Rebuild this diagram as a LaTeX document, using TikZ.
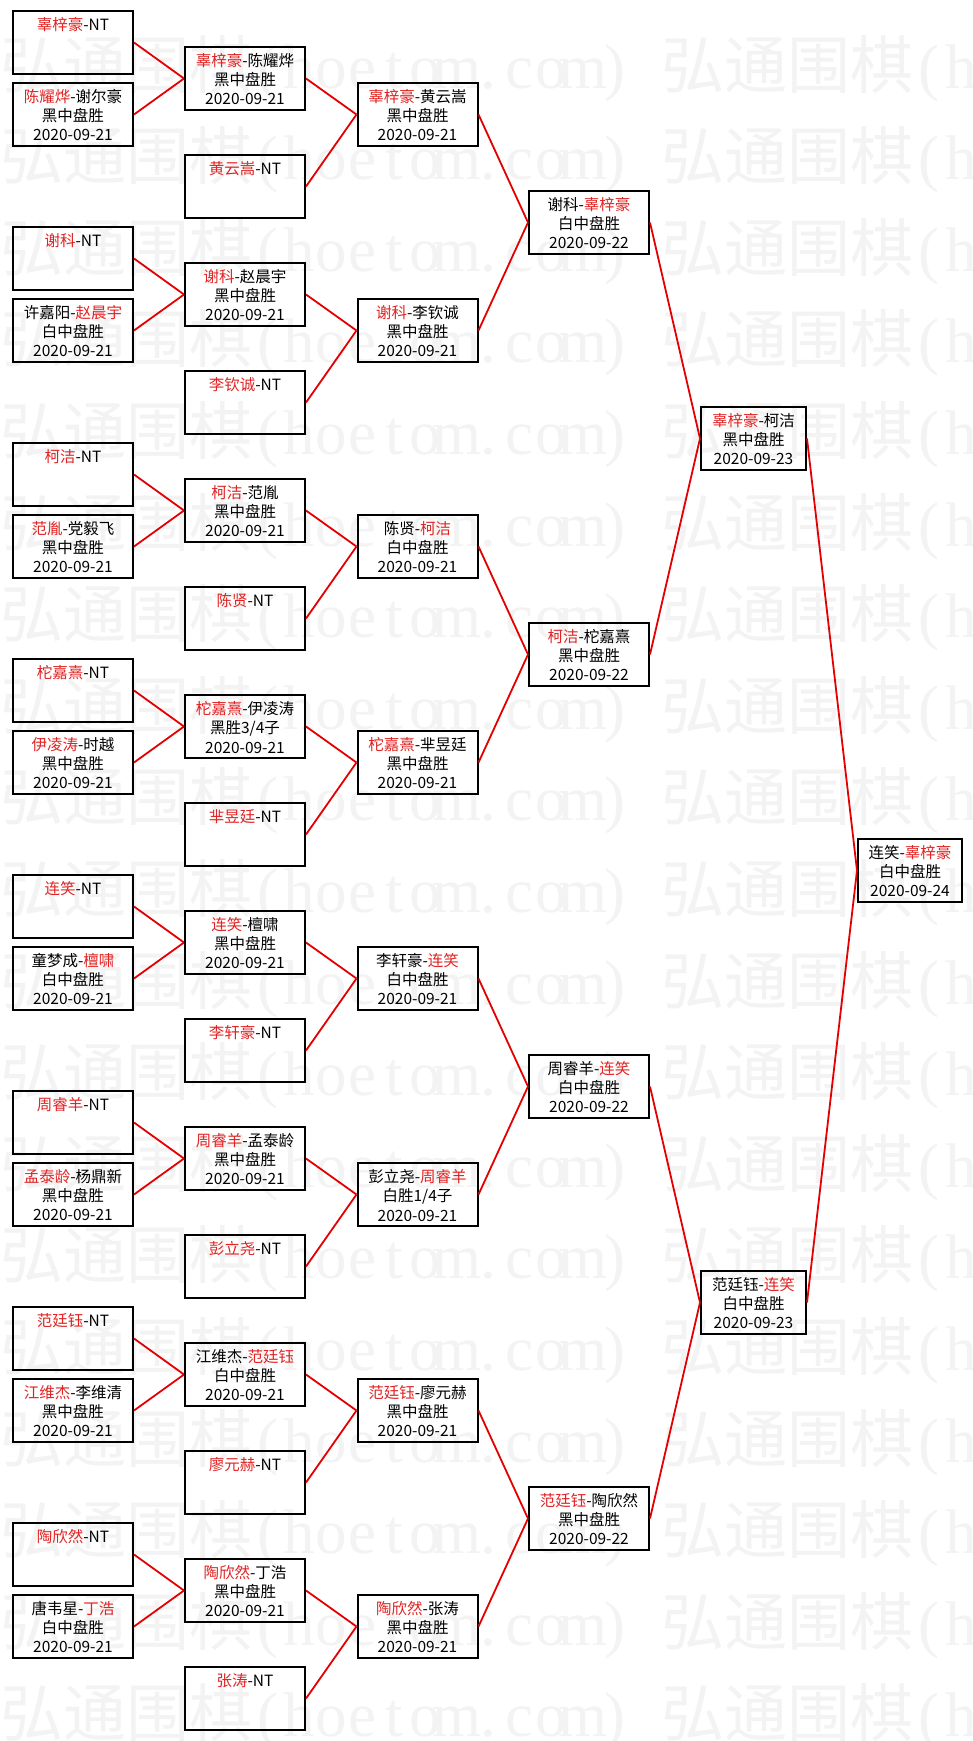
\documentclass[tikz,border=0pt]{standalone}
\usepackage{fontspec}
\newfontfamily\cjk{Noto Sans CJK SC}
\newfontfamily\wmlat{Liberation Serif}
\definecolor{tred}{RGB}{225,35,35}
\definecolor{lred}{RGB}{228,0,0}
\definecolor{wmgray}{RGB}{243,243,243}
\newcommand\boxfont{\cjk\fontsize{15.5pt}{19pt}\selectfont}
\newcommand\wmfont{\cjk\fontsize{63pt}{70pt}\selectfont}
\newcommand\redn[1]{\textcolor{tred}{#1}}
\newcommand\bxl[1]{\rule[-2.1pt]{0pt}{19pt}#1}
\newcommand\mthree[3]{\bxl{#1}\\\bxl{#2}\\\bxl{#3}}
\newcommand\mnt[1]{\bxl{\redn{#1}-NT}\\\bxl{}\\\bxl{}}
\newcommand\wmC[1]{\makebox[63pt]{#1}}
\newcommand\wmL[1]{\makebox[31.5pt]{\wmlat #1}}
\newcommand\wmtext{\wmC{弘}\wmC{通}\wmC{围}\wmC{棋}\wmL{(}\wmL{h}\wmL{o}\wmL{e}\wmL{t}\wmL{o}\wmL{m}\wmL{.}\wmL{c}\wmL{o}\wmL{m}\wmL{)}\wmL{}}
\tikzset{
  box/.style={draw=black, line width=2pt, minimum width=120pt, minimum height=63pt, inner sep=0pt, align=center, font=\boxfont},
  nbox/.style={box, minimum width=105pt},
  fbox/.style={box, minimum width=104pt},
  link/.style={draw=lred, line width=1.8pt},
  wm/.style={anchor=base west, inner sep=0pt, font=\wmfont, text=wmgray}
}
\begin{document}
\begin{tikzpicture}[x=1pt,y=-1pt]
\useasboundingbox (0,0) rectangle (973,1741);
\fill[white] (0,0) rectangle (973,1741);
% watermark
\begin{scope}
\clip (0,0) rectangle (973,1741);
\foreach \k in {0,...,18}{
  \node[wm] (wm\k) at (0,{88+91.6*\k}) {\wmtext\wmtext};
}
\end{scope}
% column 1
\node[box] (a1) at (73,42.5)   {\mnt{辜梓豪}};
\node[box] (b1) at (73,114.5)  {\mthree{\redn{陈耀烨}-谢尔豪}{黑中盘胜}{2020-09-21}};
\node[box] (a2) at (73,258.5)  {\mnt{谢科}};
\node[box] (b2) at (73,330.5)  {\mthree{许嘉阳-\redn{赵晨宇}}{白中盘胜}{2020-09-21}};
\node[box] (a3) at (73,474.5)  {\mnt{柯洁}};
\node[box] (b3) at (73,546.5)  {\mthree{\redn{范胤}-党毅飞}{黑中盘胜}{2020-09-21}};
\node[box] (a4) at (73,690.5)  {\mnt{柁嘉熹}};
\node[box] (b4) at (73,762.5)  {\mthree{\redn{伊凌涛}-时越}{黑中盘胜}{2020-09-21}};
\node[box] (a5) at (73,906.5)  {\mnt{连笑}};
\node[box] (b5) at (73,978.5)  {\mthree{童梦成-\redn{檀啸}}{白中盘胜}{2020-09-21}};
\node[box] (a6) at (73,1122.5) {\mnt{周睿羊}};
\node[box] (b6) at (73,1194.5) {\mthree{\redn{孟泰龄}-杨鼎新}{黑中盘胜}{2020-09-21}};
\node[box] (a7) at (73,1338.5) {\mnt{范廷钰}};
\node[box] (b7) at (73,1410.5) {\mthree{\redn{江维杰}-李维清}{黑中盘胜}{2020-09-21}};
\node[box] (a8) at (73,1554.5) {\mnt{陶欣然}};
\node[box] (b8) at (73,1626.5) {\mthree{唐韦星-\redn{丁浩}}{白中盘胜}{2020-09-21}};
% column 2
\node[box] (m1) at (245,78.5)   {\mthree{\redn{辜梓豪}-陈耀烨}{黑中盘胜}{2020-09-21}};
\node[box] (n1) at (245,186.5)  {\mnt{黄云嵩}};
\node[box] (m2) at (245,294.5)  {\mthree{\redn{谢科}-赵晨宇}{黑中盘胜}{2020-09-21}};
\node[box] (n2) at (245,402.5)  {\mnt{李钦诚}};
\node[box] (m3) at (245,510.5)  {\mthree{\redn{柯洁}-范胤}{黑中盘胜}{2020-09-21}};
\node[box] (n3) at (245,618.5)  {\mnt{陈贤}};
\node[box] (m4) at (245,726.5)  {\mthree{\redn{柁嘉熹}-伊凌涛}{黑胜3/4子}{2020-09-21}};
\node[box] (n4) at (245,834.5)  {\mnt{芈昱廷}};
\node[box] (m5) at (245,942.5)  {\mthree{\redn{连笑}-檀啸}{黑中盘胜}{2020-09-21}};
\node[box] (n5) at (245,1050.5) {\mnt{李轩豪}};
\node[box] (m6) at (245,1158.5) {\mthree{\redn{周睿羊}-孟泰龄}{黑中盘胜}{2020-09-21}};
\node[box] (n6) at (245,1266.5) {\mnt{彭立尧}};
\node[box] (m7) at (245,1374.5) {\mthree{江维杰-\redn{范廷钰}}{白中盘胜}{2020-09-21}};
\node[box] (n7) at (245,1482.5) {\mnt{廖元赫}};
\node[box] (m8) at (245,1590.5) {\mthree{\redn{陶欣然}-丁浩}{黑中盘胜}{2020-09-21}};
\node[box] (n8) at (245,1698.5) {\mnt{张涛}};
% column 3
\node[box] (t1) at (417.5,114.5)  {\mthree{\redn{辜梓豪}-黄云嵩}{黑中盘胜}{2020-09-21}};
\node[box] (t2) at (417.5,330.5)  {\mthree{\redn{谢科}-李钦诚}{黑中盘胜}{2020-09-21}};
\node[box] (t3) at (417.5,546.5)  {\mthree{陈贤-\redn{柯洁}}{白中盘胜}{2020-09-21}};
\node[box] (t4) at (417.5,762.5)  {\mthree{\redn{柁嘉熹}-芈昱廷}{黑中盘胜}{2020-09-21}};
\node[box] (t5) at (417.5,978.5)  {\mthree{李轩豪-\redn{连笑}}{白中盘胜}{2020-09-21}};
\node[box] (t6) at (417.5,1194.5) {\mthree{彭立尧-\redn{周睿羊}}{白胜1/4子}{2020-09-21}};
\node[box] (t7) at (417.5,1410.5) {\mthree{\redn{范廷钰}-廖元赫}{黑中盘胜}{2020-09-21}};
\node[box] (t8) at (417.5,1626.5) {\mthree{\redn{陶欣然}-张涛}{黑中盘胜}{2020-09-21}};
% column 4
\node[box] (q1) at (589,222.5)  {\mthree{谢科-\redn{辜梓豪}}{白中盘胜}{2020-09-22}};
\node[box] (q2) at (589,654.5)  {\mthree{\redn{柯洁}-柁嘉熹}{黑中盘胜}{2020-09-22}};
\node[box] (q3) at (589,1086.5) {\mthree{周睿羊-\redn{连笑}}{白中盘胜}{2020-09-22}};
\node[box] (q4) at (589,1518.5) {\mthree{\redn{范廷钰}-陶欣然}{黑中盘胜}{2020-09-22}};
% column 5
\node[nbox] (s1) at (753.5,438.5)  {\mthree{\redn{辜梓豪}-柯洁}{黑中盘胜}{2020-09-23}};
\node[nbox] (s2) at (753.5,1302.5) {\mthree{范廷钰-\redn{连笑}}{白中盘胜}{2020-09-23}};
% final
\node[fbox] (f) at (910,870.5) {\mthree{连笑-\redn{辜梓豪}}{白中盘胜}{2020-09-24}};
% connectors
\foreach \i in {1,...,8}{
  \draw[link] (a\i.east) -- (m\i.west);
  \draw[link] (b\i.east) -- (m\i.west);
  \draw[link] (m\i.east) -- (t\i.west);
  \draw[link] (n\i.east) -- (t\i.west);
}
\draw[link] (t1.east) -- (q1.west);
\draw[link] (t2.east) -- (q1.west);
\draw[link] (t3.east) -- (q2.west);
\draw[link] (t4.east) -- (q2.west);
\draw[link] (t5.east) -- (q3.west);
\draw[link] (t6.east) -- (q3.west);
\draw[link] (t7.east) -- (q4.west);
\draw[link] (t8.east) -- (q4.west);
\draw[link] (q1.east) -- (s1.west);
\draw[link] (q2.east) -- (s1.west);
\draw[link] (q3.east) -- (s2.west);
\draw[link] (q4.east) -- (s2.west);
\draw[link] (s1.east) -- (f.west);
\draw[link] (s2.east) -- (f.west);
\end{tikzpicture}
\end{document}
